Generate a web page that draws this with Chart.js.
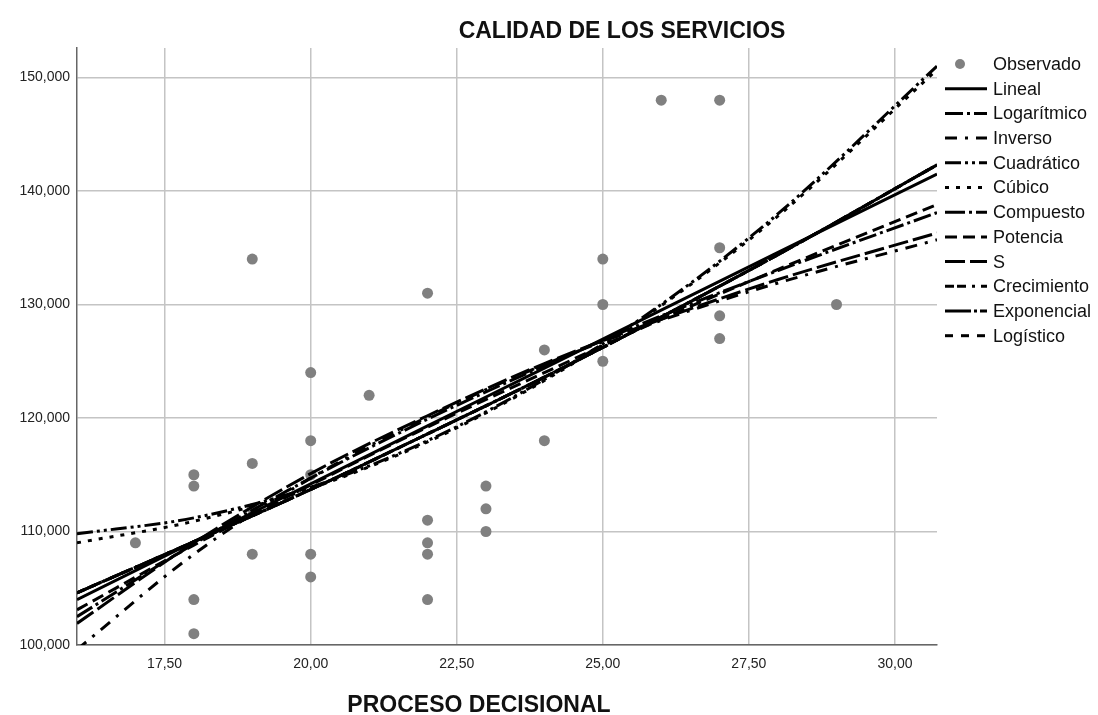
<!DOCTYPE html>
<html>
<head>
<meta charset="utf-8">
<script src="https://cdn.jsdelivr.net/npm/chart.js@4.4.0/dist/chart.umd.min.js"></script>
<style>
  html, body { margin: 0; padding: 0; background: #fff; }
  #wrap { width: 1098px; height: 715px; position: relative; }
</style>
</head>
<body>
<div id="wrap"><canvas id="curveChart" width="1098" height="715"></canvas></div>
<script>
// observed points (PROCESO DECISIONAL vs CALIDAD DE LOS SERVICIOS)
const obsX = [17, 18, 18, 18, 18, 19, 19, 19, 19, 20, 20, 20, 20, 20, 21, 22, 22, 22, 22, 22, 23, 23, 23, 24, 24, 25, 25, 25, 26, 27, 27, 27, 27, 29];
const obsY = [109, 115, 114, 104, 101, 134, 116, 112, 108, 124, 118, 115, 108, 106, 122, 131, 111, 109, 108, 104, 114, 112, 110, 126, 118, 134, 130, 125, 148, 148, 135, 129, 127, 130];

// fitted curves at these x positions
const curveX = [16, 18, 20, 22, 24, 26, 28, 30.72];
const linealY = [104.0, 109.1, 114.2, 119.3, 124.4, 129.5, 134.6, 141.5];
const logaritmicoY = [102.5, 108.9, 114.7, 119.9, 124.6, 129.0, 133.0, 138.1];
const inversoY = [99.6, 108.0, 114.7, 120.1, 124.7, 128.6, 131.9, 135.7];
const cuadraticoY = [109.8, 111.2, 113.9, 118.0, 123.4, 130.0, 138.0, 151.0];
const cubicoY = [109.0, 110.9, 113.8, 117.9, 123.3, 129.9, 137.8, 150.7];
const compuestoY = [104.6, 109.1, 113.7, 118.6, 123.6, 128.9, 134.4, 142.3];
const potenciaY = [103.1, 108.8, 114.1, 119.2, 124.0, 128.7, 133.1, 138.8];
const sY = [101.9, 109.0, 115.1, 120.2, 124.8, 128.7, 132.2, 136.3];
const crecimientoY = compuestoY;
const exponencialY = compuestoY;
const logisticoY = compuestoY;

const xTicks = [17.5, 20, 22.5, 25, 27.5, 30];
const yTicks = [100, 110, 120, 130, 140, 150];

const FONT = '"Liberation Sans", Arial, sans-serif';

function curve(label, ys, dash) {
  return {
    type: 'line',
    label: label,
    data: curveX.map((x, i) => ({ x: x, y: ys[i] })),
    borderColor: '#000',
    borderWidth: 3,
    borderDash: dash,
    pointRadius: 0,
    fill: false,
    cubicInterpolationMode: 'monotone',
    order: 0,
  };
}

// legend + titles drawn straight on the canvas
const extraText = {
  id: 'extraText',
  afterDraw(chart) {
    const c = chart.ctx;
    c.save();
    c.fillStyle = '#111';
    c.textAlign = 'center';
    c.textBaseline = 'middle';
    c.font = 'bold 23px ' + FONT;
    c.fillText('CALIDAD DE LOS SERVICIOS', 622, 32);
    c.fillText('PROCESO DECISIONAL', 479, 706);

    c.font = '18px ' + FONT;
    c.textAlign = 'left';
    chart.data.datasets.forEach((ds, i) => {
      const y = 64 + i * 24.7;
      if (i === 0) {
        c.fillStyle = ds.backgroundColor;
        c.beginPath();
        c.arc(960, y, 5, 0, Math.PI * 2);
        c.fill();
      } else {
        c.strokeStyle = '#000';
        c.lineWidth = 3;
        c.setLineDash(ds.borderDash || []);
        c.beginPath();
        c.moveTo(945, y);
        c.lineTo(987, y);
        c.stroke();
        c.setLineDash([]);
      }
      c.fillStyle = '#111';
      c.fillText(ds.label, 993, y + 1);
    });
    c.restore();
  }
};

const ctx = document.getElementById('curveChart').getContext('2d');
const curveChart = new Chart(ctx, {
  type: 'scatter',
  data: {
    datasets: [
      {
        label: 'Observado',
        data: obsX.map((x, i) => ({ x: x, y: obsY[i] })),
        backgroundColor: '#808080',
        borderWidth: 0,
        pointRadius: 5.5,
        order: 1,
      },
      curve('Lineal', linealY, []),
      curve('Logarítmico', logaritmicoY, [18, 4, 3, 4]),
      curve('Inverso', inversoY, [12, 8, 3, 8]),
      curve('Cuadrático', cuadraticoY, [16, 4, 3, 4, 3, 4]),
      curve('Cúbico', cubicoY, [4, 7]),
      curve('Compuesto', compuestoY, [20, 4, 3, 4]),
      curve('Potencia', potenciaY, [12, 6]),
      curve('S', sY, [20, 5]),
      curve('Crecimiento', crecimientoY, [9, 3, 9, 6, 3, 6]),
      curve('Exponencial', exponencialY, [26, 3, 3, 3]),
      curve('Logístico', logisticoY, [8, 8]),
    ],
  },
  options: {
    responsive: false,
    animation: false,
    layout: { padding: { left: 0, top: 48, right: 161, bottom: 0 } },
    plugins: {
      legend: { display: false },
      tooltip: { enabled: false },
    },
    scales: {
      x: {
        type: 'linear',
        min: 16,
        max: 30.72,
        afterBuildTicks: (axis) => { axis.ticks = xTicks.map(v => ({ value: v })); },
        afterFit: (axis) => { axis.height = 70; },
        ticks: {
          padding: 11,
          color: '#222',
          font: { family: FONT, size: 14 },
          callback: (v) => Number(v).toFixed(2).replace('.', ','),
        },
        grid: { color: '#c4c4c4', lineWidth: 1.5, drawTicks: false },
        border: { color: '#666', width: 1.5 },
      },
      y: {
        type: 'linear',
        min: 100,
        max: 152.6,
        afterBuildTicks: (axis) => { axis.ticks = yTicks.map(v => ({ value: v })); },
        afterFit: (axis) => { axis.width = 77; },
        ticks: {
          padding: 7,
          color: '#222',
          font: { family: FONT, size: 14 },
          callback: (v) => Number(v).toFixed(3).replace('.', ','),
        },
        grid: { color: '#c4c4c4', lineWidth: 1.5, drawTicks: false },
        border: { color: '#666', width: 1.5 },
      },
    },
  },
  plugins: [extraText],
});
</script>
</body>
</html>
